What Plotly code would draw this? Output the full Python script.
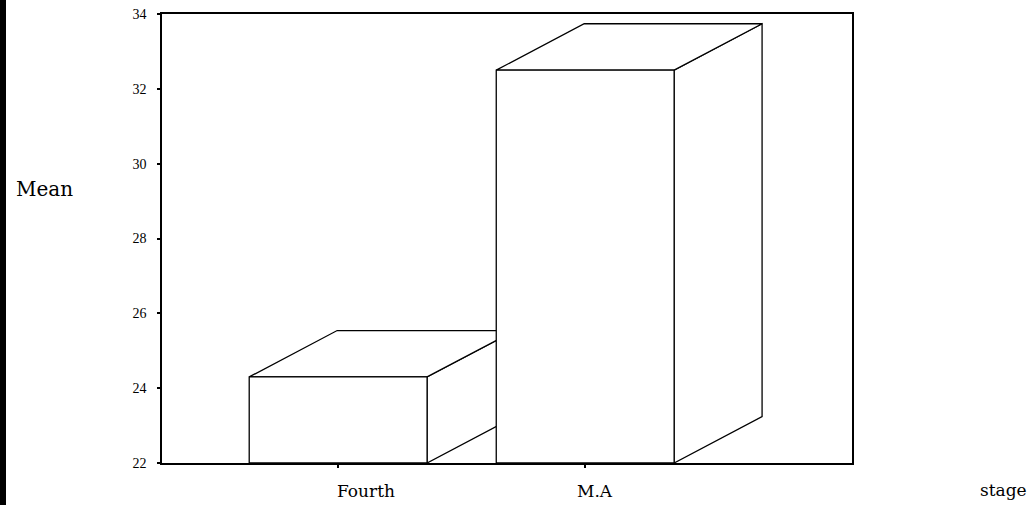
import plotly.graph_objects as go

# Data
categories = ["Fourth", "M.A"]
means = [24.3, 32.5]
y_ticks = [22, 24, 26, 28, 30, 32, 34]

# Style / geometry constants
BASE = 22
HALF_W = 0.36
DEPTH_X = 0.356
DEPTH_Y = 1.24
LINE = dict(color="black", width=1.3)
LABEL_SHIFT = [28, 10]   # horizontal offset of category labels (px)

ML, MR, MT, MB = 162, 178, 14, 42
PW, PH = 1030 - ML - MR, 505 - MT - MB

fig = go.Figure()

for i, (cat, v) in enumerate(zip(categories, means)):
    c = i
    faces = [
        # side face
        ([c + HALF_W, c + HALF_W + DEPTH_X, c + HALF_W + DEPTH_X, c + HALF_W, c + HALF_W],
         [BASE, BASE + DEPTH_Y, v + DEPTH_Y, v, BASE]),
        # top face
        ([c - HALF_W, c + HALF_W, c + HALF_W + DEPTH_X, c - HALF_W + DEPTH_X, c - HALF_W],
         [v, v, v + DEPTH_Y, v + DEPTH_Y, v]),
        # front face
        ([c - HALF_W, c + HALF_W, c + HALF_W, c - HALF_W, c - HALF_W],
         [BASE, BASE, v, v, BASE]),
    ]
    for fx, fy in faces:
        fig.add_trace(go.Scatter(
            x=fx, y=fy, mode="lines", fill="toself", fillcolor="white",
            line=LINE, hoverinfo="skip", showlegend=False,
        ))

annotations = [
    dict(text="Mean", xref="paper", yref="paper", x=(44 - ML) / PW, y=(463 - 189) / PH,
         xanchor="center", yanchor="middle",
         showarrow=False, font=dict(family="DejaVu Serif", size=20)),
    dict(text="stage", xref="paper", yref="paper", x=(1004 - ML) / PW, y=(463 - 490) / PH,
         xanchor="center", yanchor="middle",
         showarrow=False, font=dict(family="DejaVu Serif", size=17)),
]
for i, cat in enumerate(categories):
    annotations.append(dict(
        text=cat, x=i, xref="x", y=(463 - 491) / PH, yref="paper",
        xanchor="center", yanchor="middle", xshift=LABEL_SHIFT[i],
        showarrow=False, font=dict(family="DejaVu Serif", size=17),
    ))

fig.update_layout(
    width=1030, height=505,
    margin=dict(l=ML, r=MR, t=MT, b=MB, autoexpand=False),
    paper_bgcolor="white", plot_bgcolor="white",
    font=dict(family="Liberation Serif", color="black", size=12),
    showlegend=False,
    xaxis=dict(
        range=[-0.713, 2.08], tickvals=list(range(len(categories))), ticktext=categories,
        showticklabels=False, automargin=False,
        showgrid=False, zeroline=False, showline=True, linecolor="black", linewidth=1.6,
        mirror=True, ticks="outside", ticklen=3, tickcolor="black", tickwidth=1.5,
    ),
    yaxis=dict(
        range=[22, 34], tickvals=y_ticks, ticktext=[str(t) for t in y_ticks],
        automargin=False,
        showgrid=False, zeroline=False, showline=True, linecolor="black", linewidth=1.6,
        mirror=True, ticks="outside", ticklen=3, tickcolor="black", tickwidth=1.5,
        ticklabelstandoff=8,
        tickfont=dict(family="Liberation Serif", size=14),
    ),
    annotations=annotations,
    shapes=[
        dict(type="rect", xref="paper", yref="paper", x0=-ML / PW, x1=(6 - ML) / PW,
             y0=-MB / PH, y1=(PH + MT) / PH, fillcolor="black", line=dict(width=0)),
    ],
)

fig.write_html(
    "out.html",
    config={"displayModeBar": False},
    post_script="document.body.style.margin='0';document.body.style.overflow='hidden';",
)
